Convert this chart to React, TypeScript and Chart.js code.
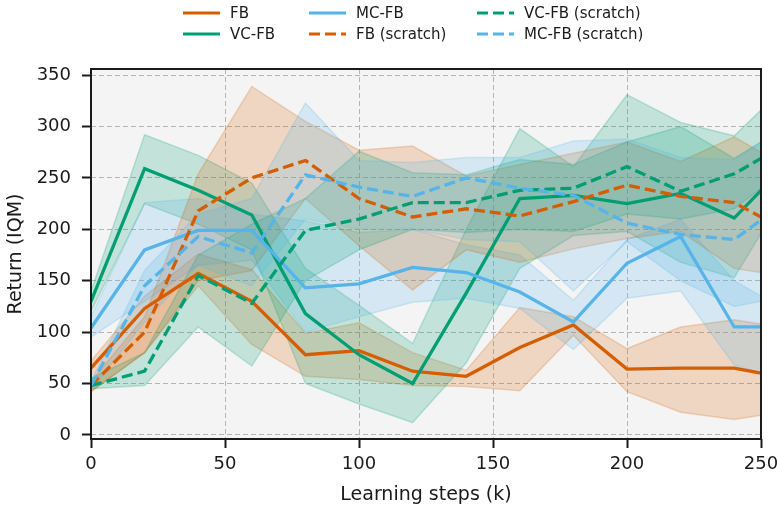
import { useEffect, useRef } from "react";
import { Chart, registerables } from "chart.js";

Chart.register(...registerables);

// Learning steps (k) at which each run was evaluated
const steps = [0, 20, 40, 60, 80, 100, 120, 140, 160, 180, 200, 220, 240, 250];

// IQM return and its confidence band, one set per method
const fbMean = [65, 123, 157, 130, 78, 82, 62, 57, 85, 107, 64, 65, 65, 60];
const fbLow = [42, 80, 145, 88, 57, 54, 48, 47, 43, 97, 42, 22, 15, 19];
const fbHigh = [72, 135, 176, 161, 99, 109, 80, 63, 124, 115, 84, 105, 112, 108];

const vcMean = [130, 259, 238, 214, 118, 78, 50, 138, 230, 233, 225, 235, 211, 238];
const vcLow = [120, 225, 205, 180, 50, 30, 12, 70, 162, 194, 198, 168, 153, 196];
const vcHigh = [140, 292, 272, 245, 162, 126, 89, 200, 298, 261, 331, 304, 291, 316];

const mcMean = [104, 180, 199, 199, 143, 147, 163, 158, 139, 110, 167, 193, 105, 105];
const mcLow = [95, 130, 165, 170, 100, 115, 129, 133, 123, 83, 133, 140, 68, 60];
const mcHigh = [115, 226, 230, 215, 208, 197, 200, 185, 175, 131, 190, 210, 150, 135];

const fbScratchMean = [48, 100, 218, 250, 267, 230, 212, 220, 213, 227, 243, 232, 226, 212];
const fbScratchLow = [42, 80, 150, 160, 230, 184, 141, 180, 168, 181, 191, 198, 162, 158];
const fbScratchHigh = [52, 115, 254, 339, 305, 277, 281, 252, 263, 274, 285, 266, 290, 275];

const vcScratchMean = [48, 62, 155, 128, 199, 210, 226, 226, 238, 240, 261, 237, 254, 269];
const vcScratchLow = [45, 48, 105, 67, 150, 180, 200, 197, 200, 198, 215, 210, 220, 240];
const vcScratchHigh = [55, 80, 175, 205, 230, 276, 255, 253, 268, 263, 285, 300, 269, 285];

const mcScratchMean = [48, 145, 193, 177, 253, 241, 232, 250, 240, 233, 206, 195, 190, 209];
const mcScratchLow = [44, 110, 165, 145, 210, 200, 200, 190, 188, 140, 188, 150, 125, 130];
const mcScratchHigh = [52, 160, 215, 230, 323, 267, 265, 270, 270, 286, 288, 270, 268, 285];

const yTicks = [0, 50, 100, 150, 200, 250, 300, 350];
const xTicks = [0, 50, 100, 150, 200, 250];

const ORANGE = [213, 94, 0];
const GREEN = [0, 158, 115];
const BLUE = [86, 180, 233];

const FONT = '"DejaVu Sans", sans-serif';

const rgba = (c: number[], a: number) => `rgba(${c[0]},${c[1]},${c[2]},${a})`;

type Series = {
  label: string;
  color: number[];
  dashed: boolean;
  mean: number[];
  low: number[];
  high: number[];
};

const seriesList: Series[] = [
  { label: "FB", color: ORANGE, dashed: false, mean: fbMean, low: fbLow, high: fbHigh },
  { label: "VC-FB", color: GREEN, dashed: false, mean: vcMean, low: vcLow, high: vcHigh },
  { label: "MC-FB", color: BLUE, dashed: false, mean: mcMean, low: mcLow, high: mcHigh },
  { label: "FB (scratch)", color: ORANGE, dashed: true, mean: fbScratchMean, low: fbScratchLow, high: fbScratchHigh },
  { label: "VC-FB (scratch)", color: GREEN, dashed: true, mean: vcScratchMean, low: vcScratchLow, high: vcScratchHigh },
  { label: "MC-FB (scratch)", color: BLUE, dashed: true, mean: mcScratchMean, low: mcScratchLow, high: mcScratchHigh },
];

// legend laid out column by column, three columns of two rows
const legendOrder = [
  { s: 0, col: 0, row: 0 },
  { s: 1, col: 0, row: 1 },
  { s: 2, col: 1, row: 0 },
  { s: 3, col: 1, row: 1 },
  { s: 4, col: 2, row: 0 },
  { s: 5, col: 2, row: 1 },
];
const legendColX = [183, 309, 477];
const legendRowY = [12.5, 33.5];

const toPoints = (ys: number[]) => steps.map((x, i) => ({ x, y: ys[i] }));

const framePlugin = {
  id: "frame",
  beforeDraw(chart: any) {
    const { ctx, chartArea: a } = chart;
    ctx.save();
    ctx.fillStyle = "#f4f4f4";
    ctx.fillRect(a.left, a.top, a.right - a.left, a.bottom - a.top);
    ctx.restore();
  },
  afterDatasetsDraw(chart: any) {
    const { ctx, chartArea: a } = chart;
    ctx.save();
    ctx.strokeStyle = "#1a1a1a";
    ctx.lineWidth = 2;
    ctx.strokeRect(a.left, a.top, a.right - a.left, a.bottom - a.top);
    ctx.restore();
  },
};

function Legend() {
  return (
    <>
      {legendOrder.map(({ s, col, row }) => {
        const ser = seriesList[s];
        const x = legendColX[col];
        const y = legendRowY[row];
        return (
          <div key={ser.label}>
            <svg
              width={38}
              height={6}
              style={{ position: "absolute", left: x, top: y - 3 }}
            >
              <line
                x1={0}
                y1={3}
                x2={37}
                y2={3}
                stroke={rgba(ser.color, 1)}
                strokeWidth={3.2}
                strokeDasharray={ser.dashed ? "11 5" : undefined}
              />
            </svg>
            <div
              style={{
                position: "absolute",
                left: x + 47,
                top: y - 10,
                height: 20,
                lineHeight: "20px",
                fontFamily: FONT,
                fontSize: 15,
                color: "#1a1a1a",
                whiteSpace: "nowrap",
              }}
            >
              {ser.label}
            </div>
          </div>
        );
      })}
    </>
  );
}

export default function App() {
  const ref = useRef<HTMLCanvasElement>(null);

  useEffect(() => {
    if (!ref.current) return;

    const bandSets: any[] = [];
    seriesList.forEach((s) => {
      bandSets.push({
        label: s.label + " low",
        data: toPoints(s.low),
        borderColor: rgba(s.color, 0.22),
        borderWidth: 1.5,
        backgroundColor: "transparent",
        pointRadius: 0,
        fill: false,
      });
      bandSets.push({
        label: s.label + " high",
        data: toPoints(s.high),
        borderColor: rgba(s.color, 0.22),
        borderWidth: 1.5,
        backgroundColor: rgba(s.color, 0.2),
        pointRadius: 0,
        fill: "-1",
      });
    });
    const lineSets = seriesList.map((s) => ({
      label: s.label,
      data: toPoints(s.mean),
      borderColor: rgba(s.color, 1),
      borderWidth: 3.3,
      borderDash: s.dashed ? [11, 5] : [],
      pointRadius: 0,
      fill: false,
    }));
    const datasets = [...bandSets, ...lineSets].map((d, i) => ({
      ...d,
      order: -i,
      tension: 0,
      borderJoinStyle: "miter",
      borderCapStyle: "butt",
    }));

    const axisBase = {
      type: "linear" as const,
      border: { display: false, dash: [5, 3] },
      grid: {
        color: "#b4b4b4",
        lineWidth: 1,
        tickLength: 9,
        tickWidth: 2,
        tickColor: "#1a1a1a",
        tickBorderDash: [],
      },
    };

    const chart = new Chart(ref.current, {
      type: "line",
      data: { datasets },
      plugins: [framePlugin],
      options: {
        animation: false,
        responsive: false,
        parsing: true,
        layout: { padding: { top: 69, right: 16, left: 0, bottom: 0 } },
        plugins: {
          legend: { display: false },
          tooltip: { enabled: false },
        },
        scales: {
          x: {
            ...axisBase,
            min: 0,
            max: 250,
            afterBuildTicks: (axis: any) => {
              axis.ticks = xTicks.map((v) => ({ value: v }));
            },
            afterFit: (axis: any) => {
              axis.height = 69;
              axis.paddingLeft = 0;
              axis.paddingRight = 0;
            },
            ticks: {
              padding: 6,
              color: "#1a1a1a",
              font: { family: FONT, size: 18 },
              maxRotation: 0,
            },
            title: {
              display: true,
              text: "Learning steps (k)",
              color: "#1a1a1a",
              font: { family: FONT, size: 19 },
              padding: { top: 0, bottom: 2 },
            },
          },
          y: {
            ...axisBase,
            min: -4,
            max: 356,
            afterBuildTicks: (axis: any) => {
              axis.ticks = yTicks.map((v) => ({ value: v }));
            },
            afterFit: (axis: any) => {
              axis.width = 91;
              axis.paddingTop = 0;
              axis.paddingBottom = 0;
            },
            ticks: {
              padding: 11,
              color: "#1a1a1a",
              font: { family: FONT, size: 18 },
            },
            title: {
              display: true,
              text: "Return (IQM)",
              color: "#1a1a1a",
              font: { family: FONT, size: 19 },
              padding: { top: 5, bottom: 0 },
            },
          },
        },
      } as any,
    });

    return () => chart.destroy();
  }, []);

  return (
    <div
      style={{
        position: "absolute",
        left: 0,
        top: 0,
        width: 777,
        height: 508,
        background: "#ffffff",
        overflow: "hidden",
      }}
    >
      <canvas
        ref={ref}
        width={777}
        height={508}
        style={{ position: "absolute", left: 0, top: 0, width: 777, height: 508 }}
      />
      <Legend />
    </div>
  );
}
